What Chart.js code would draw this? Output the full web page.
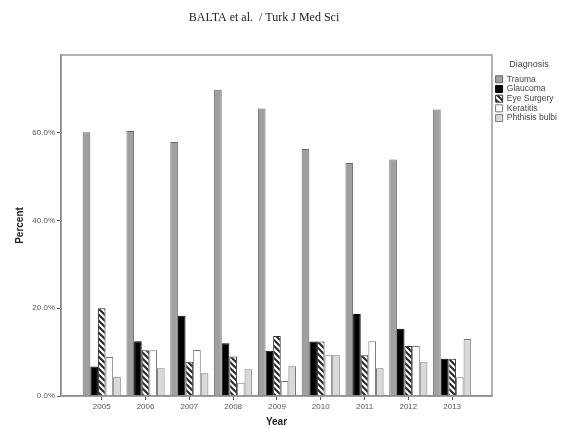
<!DOCTYPE html>
<html>
<head>
<meta charset="utf-8">
<script src="https://cdn.jsdelivr.net/npm/chart.js@4.4.0/dist/chart.umd.min.js"></script>
<style>
  body { margin: 0; background: #fff; }
  canvas { display: block; }
</style>
</head>
<body>
<canvas id="diagChart" width="561" height="428"></canvas>
<script>
// Data (percent of cases per year)
const years = [2005, 2006, 2007, 2008, 2009, 2010, 2011, 2012, 2013];
const trauma = [60.1, 60.4, 57.9, 69.8, 65.5, 56.3, 53.1, 53.9, 65.3];
const glaucoma = [6.7, 12.5, 18.3, 12.0, 10.3, 12.4, 18.7, 15.3, 8.5];
const eyeSurgery = [20.0, 10.4, 7.8, 9.0, 13.7, 12.4, 9.3, 11.4, 8.5];
const keratitis = [8.9, 10.4, 10.5, 3.0, 3.4, 9.3, 12.5, 11.4, 4.3];
const phthisis = [4.4, 6.3, 5.2, 6.1, 6.8, 9.3, 6.3, 7.7, 13.0];
const yTicks = [0, 20, 40, 60];

// diagonal hatch for "Eye Surgery"
function makeHatch() {
    const c = document.createElement('canvas');
    c.width = 6; c.height = 6;
    const g = c.getContext('2d');
    g.fillStyle = '#fff';
    g.fillRect(0, 0, 6, 6);
    g.strokeStyle = '#2a2a2a';
    g.lineWidth = 2.2;
    g.beginPath();
    g.moveTo(-1, -1); g.lineTo(7, 7);
    g.moveTo(-4, 2); g.lineTo(4, 10);
    g.moveTo(2, -4); g.lineTo(10, 4);
    g.stroke();
    return g.createPattern(c, 'repeat');
}

const toPoints = arr => arr.map((v, i) => ({ x: years[i], y: v }));

// page header + grey frame around the plot area
const framePlugin = {
    id: 'frame',
    afterLayout(chart) {
        // nudge the legend a little off the frame
        chart.legend.left += 2.4;
        chart.legend.right += 2.4;
    },
    afterDraw(chart) {
        const { ctx, chartArea: a } = chart;
        ctx.save();
        ctx.strokeStyle = '#9a9a9a';
        ctx.lineWidth = 1.5;
        ctx.strokeRect(a.left, a.top, a.right - a.left, a.bottom - a.top);
        ctx.fillStyle = '#222';
        ctx.font = '12px "Liberation Serif"';
        ctx.textAlign = 'center';
        ctx.textBaseline = 'middle';
        ctx.fillText('BALTA et al.  / Turk J Med Sci', 264, 18);
        ctx.restore();
    }
};

const ctx = document.getElementById('diagChart').getContext('2d');
new Chart(ctx, {
    type: 'bar',
    data: {
        datasets: [
            { label: 'Trauma', data: toPoints(trauma), backgroundColor: '#a0a0a0', borderColor: '#666', borderWidth: 1 },
            { label: 'Glaucoma', data: toPoints(glaucoma), backgroundColor: '#000', borderColor: '#000', borderWidth: 1 },
            { label: 'Eye Surgery', data: toPoints(eyeSurgery), backgroundColor: makeHatch(), borderColor: '#333', borderWidth: 1 },
            { label: 'Keratitis', data: toPoints(keratitis), backgroundColor: '#fff', borderColor: '#777', borderWidth: 1 },
            { label: 'Phthisis bulbi', data: toPoints(phthisis), backgroundColor: '#d9d9d9', borderColor: '#7a7a7a', borderWidth: 1 }
        ]
    },
    options: {
        responsive: false,
        animation: false,
        devicePixelRatio: 1,
        layout: { padding: { left: 14, right: 0, bottom: 0, top: 55 } },
        datasets: { bar: { categoryPercentage: 0.87, barPercentage: 1.0 } },
        scales: {
            x: {
                type: 'linear',
                offset: false,
                min: 2004.07,
                max: 2013.91,
                afterBuildTicks: s => { s.ticks = years.map(v => ({ value: v })); },
                afterFit: s => { s.height = 32; },
                ticks: { color: '#555', font: { family: 'Liberation Sans', size: 8 }, padding: 2, callback: v => String(v) },
                grid: { offset: false, drawOnChartArea: false, tickLength: 4, color: '#555' },
                border: { color: '#666', width: 1.5 },
                title: { display: true, text: 'Year', color: '#222', font: { family: 'Liberation Sans', size: 10, weight: 'bold' }, padding: { top: 2, bottom: 0 } }
            },
            y: {
                min: 0,
                max: 77.7,
                afterBuildTicks: s => { s.ticks = yTicks.map(v => ({ value: v })); },
                afterFit: s => { s.width = 47; },
                ticks: { color: '#555', font: { family: 'Liberation Sans', size: 8 }, padding: 2, callback: v => v.toFixed(1) + '%' },
                grid: { drawOnChartArea: false, tickLength: 4, color: '#555' },
                border: { color: '#666', width: 1.5 },
                title: { display: true, text: 'Percent', color: '#222', font: { family: 'Liberation Sans', size: 10, weight: 'bold' }, padding: 0 }
            }
        },
        plugins: {
            title: { display: false },
            legend: {
                position: 'right',
                align: 'start',
                maxWidth: 69,
                title: { display: true, text: 'Diagnosis', color: '#444', font: { family: 'Liberation Sans', size: 9 }, padding: { top: 5, bottom: 3 } },
                labels: {
                    color: '#444',
                    font: { family: 'Liberation Sans', size: 8.5 },
                    boxWidth: 7,
                    boxHeight: 7,
                    padding: 1.2
                }
            },
            tooltip: { enabled: false }
        }
    },
    plugins: [framePlugin]
});
</script>
</body>
</html>
